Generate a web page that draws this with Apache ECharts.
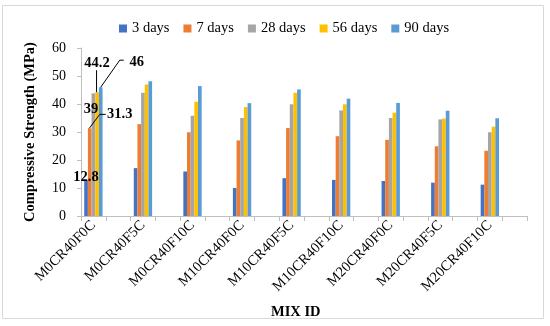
<!DOCTYPE html>
<html>
<head>
<meta charset="utf-8">
<script src="https://cdn.jsdelivr.net/npm/echarts@6/dist/echarts.min.js"></script>
<style>
html,body{margin:0;padding:0;background:#fff;}
#chart{width:550px;height:326px;}
</style>
</head>
<body>
<div id="chart"></div>
<script>
var categories = ['M0CR40F0C','M0CR40F5C','M0CR40F10C','M10CR40F0C','M10CR40F5C','M10CR40F10C','M20CR40F0C','M20CR40F5C','M20CR40F10C'];
var seriesNames = ['3 days','7 days','28 days','56 days','90 days'];
var days3  = [12.8, 17.1, 15.9, 10.0, 13.5, 12.9, 12.5, 11.9, 11.2];
var days7  = [31.3, 32.8, 29.9, 27.0, 31.4, 28.5, 27.2, 24.9, 23.3];
var days28 = [43.8, 44.0, 35.8, 35.0, 39.9, 37.7, 35.0, 34.5, 29.9];
var days56 = [44.2, 47.0, 40.8, 38.9, 44.0, 39.9, 36.9, 34.8, 31.9];
var days90 = [46.0, 48.1, 46.4, 40.3, 45.2, 41.9, 40.4, 37.6, 34.9];
// data labels as printed on the first mix in the figure
var labelTexts = ['12.8', '31.3', '39', '44.2', '46'];
var yTicks = [0, 10, 20, 30, 40, 50, 60];
var labeledIndex = 0;

var colors = ['#4472C4','#ED7D31','#A5A5A5','#FFC000','#5B9BD5'];
var values = [days3, days7, days28, days56, days90];

// label offsets in px relative to default 'top' position (style)
var labelOffsets = [
  {dx: 0, dy: 10},
  {dx: 30, dy: -2},
  {dx: -2.5, dy: 28},
  {dx: 0, dy: -16},
  {dx: 36, dy: -12}
];
// leader line shapes: px offsets from bar-top centre (style)
var leaderShapes = {
  1: [[-0.5, 0], [10, -14], [16, -14]],
  3: [[-0.5, 0], [-0.5, -22]],
  4: [[0, 0], [19, -27], [23, -27]]
};

var CAT_GAP = 0.26;
var NSER = values.length;

var slots = [];
categories.forEach(function(c){ slots.push(c); slots.push(''); });

var FONT = 'Liberation Serif';

var series = values.map(function(arr, si){
  var data = [];
  arr.forEach(function(v, i){
    var item = {value: v};
    if (i === labeledIndex) {
      item.label = {show: true, position: 'top', fontFamily: FONT, fontWeight: 'bold', fontSize: 14.5, color: '#000',
        formatter: function(){ return labelTexts[si]; }};
    }
    data.push(item);
    data.push('-');
  });
  return {
    name: seriesNames[si],
    type: 'bar',
    data: data,
    itemStyle: {color: colors[si]},
    barGap: '0%',
    barCategoryGap: (CAT_GAP * 100) + '%',
    z: 2,
    labelLayout: function(p){
      if (p.dataIndex === labeledIndex * 2) {
        return {dx: labelOffsets[si].dx, dy: labelOffsets[si].dy};
      }
      return {};
    }
  };
});

// leader lines anchored to the bar tops via the axes
var leaderData = Object.keys(leaderShapes).map(function(k){
  var si = +k;
  return [labeledIndex * 2, values[si][labeledIndex], si];
});
series.push({
  type: 'custom',
  name: 'leaders',
  z: 10,
  silent: true,
  data: leaderData,
  renderItem: function(params, api){
    var si = api.value(2);
    var p = api.coord([api.value(0), api.value(1)]);
    var w = api.size([1, 0])[0];
    var used = w * (1 - CAT_GAP);
    var bw = used / NSER;
    var cx = p[0] - used / 2 + bw * (si + 0.5);
    var pts = leaderShapes[si].map(function(o){ return [cx + o[0], p[1] + o[1]]; });
    return {
      type: 'polyline',
      shape: {points: pts},
      style: {stroke: '#000', lineWidth: 1, fill: null}
    };
  }
});

var chart = echarts.init(document.getElementById('chart'));
chart.setOption({
  animation: false,
  backgroundColor: '#fff',
  color: colors,
  textStyle: {fontFamily: FONT},
  legend: {
    top: 16,
    left: 114,
    itemWidth: 8,
    itemHeight: 8,
    itemGap: 14,
    icon: 'rect',
    textStyle: {fontFamily: FONT, fontSize: 14.5, color: '#000'},
    data: seriesNames
  },
  title: {
    text: 'MIX ID',
    left: 266,
    top: 300,
    textStyle: {fontFamily: FONT, fontSize: 14.5, fontWeight: 'bold', color: '#000'}
  },
  grid: {left: 81, right: 23, top: 48, bottom: 110, containLabel: false},
  xAxis: {
    type: 'category',
    data: slots,
    axisLine: {lineStyle: {color: '#bfbfbf'}},
    axisTick: {show: true, interval: 0, length: 5, alignWithLabel: false, lineStyle: {color: '#bfbfbf'}},
    axisLabel: {interval: 0, rotate: 45, margin: 7, fontFamily: FONT, fontSize: 14.5, color: '#000'},
    splitLine: {show: false}
  },
  yAxis: {
    type: 'value',
    min: yTicks[0],
    max: yTicks[yTicks.length - 1],
    interval: yTicks[1] - yTicks[0],
    name: 'Compressive Strength (MPa)',
    nameLocation: 'middle',
    nameGap: 43,
    nameTextStyle: {fontFamily: FONT, fontSize: 14.5, fontWeight: 'bold', color: '#000'},
    axisLine: {show: true, lineStyle: {color: '#bfbfbf'}},
    axisTick: {show: true, length: 4, lineStyle: {color: '#bfbfbf'}},
    axisLabel: {margin: 15, fontFamily: FONT, fontSize: 14, color: '#000'},
    splitLine: {show: false}
  },
  graphic: [{
    type: 'rect',
    shape: {x: 2.5, y: 5.5, width: 541, height: 313},
    style: {fill: 'none', stroke: '#d9d9d9', lineWidth: 1},
    silent: true
  }],
  series: series
});
</script>
</body>
</html>
